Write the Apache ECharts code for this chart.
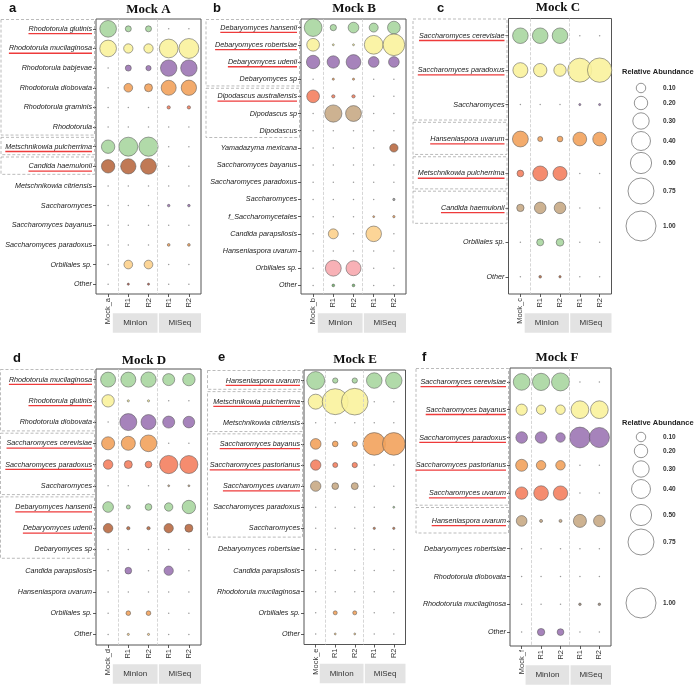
<!DOCTYPE html>
<html><head><meta charset="utf-8">
<script src="https://cdn.jsdelivr.net/npm/echarts@6/dist/echarts.min.js"></script>
<style>html,body{margin:0;padding:0;background:#fff}#c{width:696px;height:685px}</style>
</head><body><div id="c"></div>
<script>
// ---------------- data ----------------
const xLabelsA = ['Mock_a','R1','R2','R1','R2'];
const xLabelsB = ['Mock_b','R1','R2','R1','R2'];
const xLabelsC = ['Mock_c','R1','R2','R1','R2'];
const xLabelsD = ['Mock_d','R1','R2','R1','R2'];
const xLabelsE = ['Mock_e','R1','R2','R1','R2'];
const xLabelsF = ['Mock_f','R1','R2','R1','R2'];
const stripLabels = ['MinIon','MiSeq'];

const taxaA = ['Rhodotorula glutinis','Rhodotorula mucilaginosa','Rhodotorula babjevae','Rhodotorula diobovata','Rhodotorula graminis','Rhodotorula','Metschnikowia pulcherrima','Candida haemulonii','Metschnikowia citriensis','Saccharomyces','Saccharomyces bayanus','Saccharomyces paradoxus','Orbiliales sp.','Other'];
const valuesA = [
 [0.31,0.04,0.04,0,0],
 [0.31,0.096,0.096,0.39,0.44],
 [0,0.04,0.03,0.30,0.30],
 [0,0.084,0.071,0.25,0.26],
 [0,0,0,0.012,0.012],
 [0,0,0,0,0],
 [0.20,0.40,0.41,0,0],
 [0.20,0.26,0.28,0,0],
 [0,0,0,0,0],
 [0,0,0,0.007,0.007],
 [0,0,0,0,0],
 [0,0,0,0.008,0.008],
 [0,0.084,0.084,0,0],
 [0,0.005,0.005,0,0]
];
const expectedA = [0,1,6,7];
const groupsA = [[0,5],[6,6],[7,7]];

const taxaB = ['Debaryomyces hansenii','Debaryomyces robertsiae','Debaryomyces udenii','Debaryomyces sp','Dipodascus australiensis','Dipodascus sp','Dipodascus','Yamadazyma mexicana','Saccharomyces bayanus','Saccharomyces paradoxus','Saccharomyces','f_Saccharomycetales','Candida parapsilosis','Hanseniaspora uvarum','Orbiliales sp.','Other'];
const valuesB = [
 [0.35,0.044,0.127,0.09,0.18],
 [0.18,0.004,0.004,0.39,0.52],
 [0.20,0.17,0.24,0.127,0.127],
 [0,0.005,0.005,0,0],
 [0.18,0.012,0.012,0,0],
 [0,0.33,0.28,0,0],
 [0,0,0,0,0],
 [0,0,0,0,0.077],
 [0,0,0,0,0],
 [0,0,0,0,0],
 [0,0,0,0,0.006],
 [0,0,0,0.004,0.006],
 [0,0.11,0,0.27,0],
 [0,0,0,0,0],
 [0,0.28,0.25,0,0],
 [0,0.008,0.008,0,0]
];
const expectedB = [0,1,2,4];
const groupsB = [[0,3],[4,6]];

const taxaC = ['Saccharomyces cerevisiae','Saccharomyces paradoxus','Saccharomyces','Hanseniaspora uvarum','Metschnikowia pulcherrima','Candida haemulonii','Orbiliales sp.','Other'];
const valuesC = [
 [0.27,0.27,0.27,0,0],
 [0.25,0.20,0.17,0.64,0.66],
 [0,0,0,0.005,0.005],
 [0.28,0.028,0.036,0.21,0.21],
 [0.05,0.25,0.22,0,0],
 [0.06,0.15,0.15,0,0],
 [0,0.054,0.065,0,0],
 [0,0.008,0.006,0,0]
];
const expectedC = [0,1,3,4,5];
const groupsC = [[0,2],[3,3],[4,4],[5,5]];

const taxaD = ['Rhodotorula mucilaginosa','Rhodotorula glutinis','Rhodotorula diobovata','Saccharomyces cerevisiae','Saccharomyces paradoxus','Saccharomyces','Debaryomyces hansenii','Debaryomyces udenii','Debaryomyces sp','Candida parapsilosis','Hanseniaspora uvarum','Orbiliales sp.','Other'];
const valuesD = [
 [0.25,0.25,0.26,0.16,0.17],
 [0.17,0.005,0.005,0,0],
 [0,0.32,0.25,0.16,0.15],
 [0.19,0.22,0.31,0,0],
 [0.10,0.071,0.05,0.37,0.36],
 [0,0,0,0.004,0.004],
 [0.127,0.018,0.05,0.077,0.20],
 [0.10,0.012,0.012,0.096,0.071],
 [0,0,0,0,0],
 [0,0.05,0,0.096,0],
 [0,0,0,0,0],
 [0,0.024,0.024,0,0],
 [0,0.005,0.005,0,0]
];
const expectedD = [0,1,3,4,6,7];
const groupsD = [[0,2],[3,5],[6,8]];

const taxaE = ['Hanseniaspora uvarum','Metschnikowia pulcherrima','Metschnikowia citriensis','Saccharomyces bayanus','Saccharomyces pastorianus','Saccharomyces uvarum','Saccharomyces paradoxus','Saccharomyces','Debaryomyces robertsiae','Candida parapsilosis','Rhodotorula mucilaginosa','Orbiliales sp.','Other'];
const valuesE = [
 [0.36,0.031,0.031,0.27,0.30],
 [0.25,0.75,0.79,0,0],
 [0,0,0,0,0],
 [0.127,0.036,0.031,0.57,0.57],
 [0.12,0.028,0.031,0,0],
 [0.12,0.05,0.054,0,0],
 [0,0,0,0,0.004],
 [0,0,0,0.006,0.006],
 [0,0,0,0,0],
 [0,0,0,0,0],
 [0,0,0,0,0],
 [0,0.018,0.018,0,0],
 [0,0.004,0.004,0,0]
];
const expectedE = [0,1,3,4,5];
const groupsE = [[0,0],[1,2],[3,7]];

const taxaF = ['Saccharomyces cerevisiae','Saccharomyces bayanus','Saccharomyces paradoxus','Saccharomyces pastorianus','Saccharomyces uvarum','Hanseniaspora uvarum','Debaryomyces robertsiae','Rhodotorula diobovata','Rhodotorula mucilaginosa','Other'];
const valuesF = [
 [0.31,0.33,0.36,0,0],
 [0.14,0.096,0.10,0.35,0.35],
 [0.15,0.15,0.10,0.48,0.45],
 [0.16,0.10,0.10,0,0],
 [0.17,0.24,0.23,0,0],
 [0.127,0.01,0.01,0.19,0.15],
 [0,0,0,0,0],
 [0,0,0,0,0],
 [0,0,0,0.007,0.007],
 [0,0.06,0.05,0,0]
];
const expectedF = [0,1,2,3,4,5];
const groupsF = [[0,4],[5,5]];

const legendBreaks = [0.10,0.20,0.30,0.40,0.50,0.75,1.00];
const legendLabels = ['0.10','0.20','0.30','0.40','0.50','0.75','1.00'];

// ---------------- styling / layout ----------------
const palette = ['#a9d6a0','#f9f29c','#9c76b4','#f2a25c','#f47f5f','#c8aa85','#a9d6a0','#b96a42',
                 '#9e8c7a','#9c76b4','#999999','#f2a25c','#fcd08c','#b55a4a','#f7a8ae','#74b26c'];
const SANS = '"Liberation Sans", Arial, sans-serif';
const SERIF = '"Liberation Serif", "Times New Roman", serif';
function bubble(v){ return Math.max(1.5, 30*Math.sqrt(v)); }

const panels = [
 {x:xLabelsA, taxa:taxaA, vals:valuesA, exp:expectedA, groups:groupsA, g:[96,19,105,275], boxL:1, title:'Mock A', letter:'a', tp:[148.5,10], lp:[9,8]},
 {x:xLabelsB, taxa:taxaB, vals:valuesB, exp:expectedB, groups:groupsB, g:[301,19,105,275], boxL:206, title:'Mock B', letter:'b', tp:[354,9], lp:[213,8]},
 {x:xLabelsC, taxa:taxaC, vals:valuesC, exp:expectedC, groups:groupsC, g:[508.5,18.5,103,275.5], boxL:413, title:'Mock C', letter:'c', tp:[558,8], lp:[437,8]},
 {x:xLabelsD, taxa:taxaD, vals:valuesD, exp:expectedD, groups:groupsD, g:[96,369,105,276], boxL:0.5, title:'Mock D', letter:'d', tp:[144,361], lp:[13,358]},
 {x:xLabelsE, taxa:taxaE, vals:valuesE, exp:expectedE, groups:groupsE, g:[304,370,101.5,274.5], boxL:207.5, title:'Mock E', letter:'e', tp:[355,360], lp:[218,357]},
 {x:xLabelsF, taxa:taxaF, vals:valuesF, exp:expectedF, groups:groupsF, g:[510,368,101,278], boxL:416, title:'Mock F', letter:'f', tp:[557,358], lp:[422,357]}
];

const chart = echarts.init(document.getElementById('c'), null, {renderer:'canvas'});
const option = {animation:false, backgroundColor:'#fff', grid:[], xAxis:[], yAxis:[], series:[]};

panels.forEach((p,i)=>{
  option.grid.push({left:p.g[0], top:p.g[1], width:p.g[2], height:p.g[3], show:true,
    containLabel:false, outerBoundsMode:'none',
    borderColor:'#555', borderWidth:1, backgroundColor:'#fff'});
  const labels = p.x;
  option.xAxis.push({type:'value', gridIndex:i, min:-0.6, max:4.6, position:'bottom',
    axisLine:{show:false, onZero:false}, splitLine:{show:false},
    axisTick:{show:true, customValues:[0,1,2,3,4], length:3, lineStyle:{color:'#333', width:0.8}},
    axisLabel:{customValues:[0,1,2,3,4], formatter:v=>labels[Math.round(v)], rotate:90,
      fontSize:7.5, color:'#333', margin:4, fontFamily:SANS}});
  option.yAxis.push({type:'category', gridIndex:i, data:p.taxa, inverse:true, position:'left',
    axisLine:{show:false, onZero:false}, splitLine:{show:false},
    axisTick:{show:true, alignWithLabel:true, length:3, lineStyle:{color:'#333', width:0.8}},
    axisLabel:{interval:0, fontSize:7.2, fontStyle:'italic', color:'#222', margin:4, fontFamily:SANS}});
  const data = [];
  p.vals.forEach((row,r)=>row.forEach((v,c)=>{
    if (v === 0) data.push({value:[c,r,v], itemStyle:{color:'#8e8e8e', borderWidth:0}});
    else data.push([c,r,v]);
  }));
  option.series.push({type:'scatter', xAxisIndex:i, yAxisIndex:i, data:data,
    symbolSize:d=>bubble(d[2]),
    itemStyle:{color:pa=>palette[pa.value[1]%palette.length], borderColor:'#555', borderWidth:0.6, opacity:0.9},
    markLine:{silent:true, symbol:'none', label:{show:false}, animation:false,
      lineStyle:{type:'dashed', color:'#cccccc', width:0.8},
      data:[{xAxis:0.5},{xAxis:2.45}]}
  });
});
chart.setOption(option);

// ---------------- annotations ----------------
const ctx = document.createElement('canvas').getContext('2d');
ctx.font = 'italic 7.2px "Liberation Sans"';
const g = [];
panels.forEach((p,i)=>{
  const [L,T,W,H] = p.g;
  const band = H / p.taxa.length;
  g.push({type:'text', x:p.tp[0], y:p.tp[1], style:{text:p.title, font:'bold 13px '+SERIF, fill:'#111', align:'center', verticalAlign:'middle'}});
  g.push({type:'text', x:p.lp[0], y:p.lp[1], style:{text:p.letter, font:'bold 13px '+SANS, fill:'#111', align:'left', verticalAlign:'middle'}});
  p.groups.forEach(gr=>{
    const y0 = T + gr[0]*band + 0.5, y1 = T + (gr[1]+1)*band - 1.8;
    g.push({type:'rect', shape:{x:p.boxL, y:y0, width:L-1.5-p.boxL, height:y1-y0},
      style:{fill:null, stroke:'#aaaaaa', lineWidth:0.8, lineDash:[3,2]}, z:1});
  });
  p.exp.forEach(r=>{
    const w = ctx.measureText(p.taxa[r]).width;
    const xr = L - 4, y = T + (r+0.5)*band + 4.8;
    g.push({type:'line', shape:{x1:xr-w, y1:y, x2:xr, y2:y}, style:{stroke:'#ee3b3b', lineWidth:1.3}, z:2});
  });
  const xR1 = chart.convertToPixel({xAxisIndex:i}, 1);
  const xSep = chart.convertToPixel({xAxisIndex:i}, 2.45);
  const sy = T + H + 19.3, sh = 19.5;
  const s1x = xR1 - 15.5;
  g.push({type:'rect', shape:{x:s1x, y:sy, width:xSep-s1x, height:sh}, style:{fill:'#e3e3e3'}});
  g.push({type:'rect', shape:{x:xSep+1.3, y:sy, width:L+W-xSep-1.3, height:sh}, style:{fill:'#e3e3e3'}});
  g.push({type:'text', x:(s1x+xSep)/2, y:sy+sh/2, style:{text:stripLabels[0], font:'8px '+SANS, fill:'#333', align:'center', verticalAlign:'middle'}});
  g.push({type:'text', x:(xSep+1.3+L+W)/2, y:sy+sh/2, style:{text:stripLabels[1], font:'8px '+SANS, fill:'#333', align:'center', verticalAlign:'middle'}});
});

function legend(titleY, ys){
  g.push({type:'text', x:622, y:titleY, style:{text:'Relative Abundance', font:'bold 7.5px '+SANS, fill:'#222', align:'left', verticalAlign:'middle'}});
  legendBreaks.forEach((v,k)=>{
    g.push({type:'circle', shape:{cx:641, cy:ys[k], r:bubble(v)/2}, style:{fill:'#fff', stroke:'#666', lineWidth:0.7}});
    g.push({type:'text', x:663, y:ys[k], style:{text:legendLabels[k], font:'bold 6.5px '+SANS, fill:'#333', align:'left', verticalAlign:'middle'}});
  });
}
legend(72, [88,103,121,141,163,191,226]);
legend(423, [437,451,469,489,515,542,603]);

chart.setOption({graphic:{elements:g}});
</script></body></html>
